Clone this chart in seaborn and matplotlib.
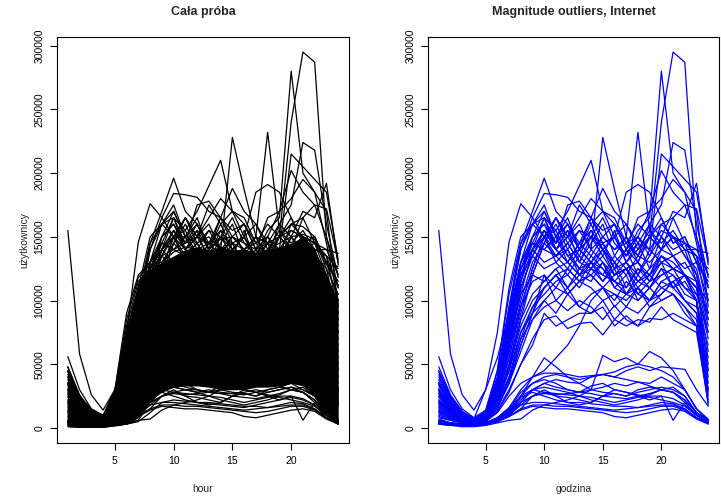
import numpy as np
import pandas as pd
import matplotlib
matplotlib.use('Agg')
import matplotlib.pyplot as plt
import seaborn as sns

# godziny 1..24, wartości w tysiącach użytkowników
hours = list(range(1, 25))

# krzywe odstające (magnitude outliers) - rysowane na obu panelach
upper = [
    [22, 14, 8, 5, 8, 25, 60, 110, 135, 150, 140, 150, 135, 155, 140, 125, 140, 130, 150, 240, 295, 287, 150, 120],
    [30, 18, 10, 6, 10, 35, 80, 125, 145, 165, 145, 155, 140, 160, 140, 150, 135, 155, 165, 280, 200, 185, 145, 100],
    [25, 15, 9, 5, 9, 30, 70, 115, 150, 160, 140, 155, 130, 145, 160, 135, 150, 232, 155, 140, 165, 145, 135, 90],
    [20, 12, 7, 4, 8, 25, 55, 95, 125, 150, 165, 145, 155, 140, 228, 187, 150, 130, 150, 140, 150, 135, 120, 80],
    [28, 16, 9, 5, 9, 30, 65, 105, 140, 165, 155, 170, 190, 210, 170, 165, 145, 160, 150, 165, 145, 150, 130, 100],
    [35, 20, 11, 6, 10, 35, 85, 130, 150, 170, 150, 160, 145, 165, 150, 140, 150, 135, 160, 175, 224, 218, 160, 118],
    [18, 11, 6, 4, 7, 22, 50, 90, 120, 145, 160, 140, 155, 150, 165, 145, 135, 150, 140, 215, 205, 195, 185, 132],
    [24, 14, 8, 5, 8, 28, 65, 110, 135, 155, 140, 150, 160, 140, 150, 160, 140, 165, 170, 202, 185, 175, 150, 110],
    [40, 22, 12, 7, 12, 40, 95, 145, 170, 196, 170, 160, 140, 150, 145, 130, 140, 120, 135, 150, 140, 145, 120, 85],
    [45, 25, 13, 7, 30, 75, 146, 176, 165, 150, 155, 135, 140, 130, 145, 125, 130, 120, 140, 130, 135, 120, 110, 70],
    [30, 18, 10, 6, 10, 33, 75, 120, 145, 140, 150, 130, 145, 155, 140, 150, 135, 145, 160, 150, 170, 165, 192, 128],
    [35, 20, 11, 6, 11, 38, 90, 140, 165, 184, 183, 181, 170, 165, 145, 150, 130, 140, 150, 140, 150, 135, 125, 85],
    [20, 12, 7, 4, 8, 25, 60, 100, 130, 145, 135, 145, 130, 150, 140, 150, 185, 191, 185, 165, 145, 150, 130, 112],
    [38, 21, 11, 6, 11, 36, 85, 130, 160, 170, 150, 165, 140, 150, 135, 155, 130, 145, 125, 150, 135, 140, 115, 75],
    [15, 9, 5, 3, 6, 18, 45, 85, 120, 145, 165, 150, 175, 160, 170, 150, 160, 140, 155, 145, 155, 140, 140, 137],
    [26, 15, 8, 5, 9, 28, 70, 115, 140, 155, 145, 175, 178, 165, 155, 160, 140, 150, 135, 160, 165, 175, 172, 130],
    [22, 13, 7, 4, 8, 24, 55, 95, 125, 150, 165, 150, 165, 180, 170, 160, 145, 135, 150, 160, 150, 140, 135, 110],
    [33, 19, 10, 6, 10, 34, 80, 125, 150, 160, 145, 160, 140, 165, 188, 170, 160, 145, 140, 155, 150, 145, 140, 120],
    [29, 17, 9, 5, 9, 30, 72, 115, 140, 155, 140, 130, 145, 135, 150, 140, 145, 150, 170, 180, 195, 185, 170, 95],
    [42, 23, 12, 7, 12, 40, 95, 140, 160, 175, 150, 135, 125, 140, 130, 120, 125, 110, 120, 130, 125, 120, 110, 60],
    [19, 11, 6, 4, 7, 22, 50, 85, 105, 115, 125, 110, 120, 115, 130, 110, 105, 115, 120, 110, 115, 120, 110, 100],
    [27, 16, 8, 5, 9, 27, 62, 95, 115, 120, 110, 125, 115, 120, 110, 100, 115, 105, 100, 115, 120, 105, 100, 55],
    [48, 26, 13, 7, 13, 45, 105, 145, 160, 150, 130, 140, 120, 125, 135, 120, 130, 115, 125, 135, 125, 130, 115, 45],
    [36, 20, 11, 6, 11, 36, 85, 125, 140, 130, 135, 145, 130, 125, 140, 130, 120, 135, 130, 140, 150, 145, 135, 125],
    [17, 10, 6, 4, 7, 20, 48, 80, 100, 110, 120, 125, 115, 130, 125, 110, 120, 100, 110, 125, 110, 115, 100, 35],
    [31, 18, 10, 6, 10, 32, 78, 120, 135, 125, 130, 120, 135, 125, 115, 130, 110, 125, 120, 135, 130, 120, 115, 90],
    [56, 30, 15, 8, 14, 45, 110, 150, 160, 165, 140, 130, 120, 130, 115, 125, 105, 120, 110, 125, 120, 110, 100, 40],
    [155, 58, 26, 14, 30, 55, 90, 125, 140, 150, 135, 140, 125, 130, 140, 120, 125, 130, 115, 135, 125, 120, 100, 50],
    [16, 10, 6, 4, 7, 18, 40, 70, 95, 105, 115, 120, 110, 125, 120, 115, 125, 105, 115, 120, 125, 110, 105, 105],
    [21, 13, 7, 4, 8, 22, 45, 75, 90, 100, 110, 105, 115, 120, 110, 105, 100, 110, 95, 105, 115, 100, 95, 65],
    [44, 24, 12, 7, 12, 38, 90, 130, 145, 140, 135, 125, 140, 130, 120, 135, 125, 130, 120, 140, 135, 125, 130, 115],
    [13, 8, 5, 3, 6, 16, 35, 65, 90, 110, 120, 110, 125, 120, 130, 115, 105, 110, 100, 105, 115, 100, 90, 45],
    [34, 19, 10, 6, 10, 30, 70, 105, 120, 115, 125, 130, 120, 135, 125, 115, 110, 125, 115, 130, 110, 120, 105, 75],
]

middle = [
    [12, 8, 5, 3, 6, 18, 40, 75, 95, 110, 120, 105, 115, 110, 100, 105, 95, 110, 100, 115, 110, 100, 90, 30],
    [14, 9, 5, 3, 6, 18, 38, 70, 85, 100, 90, 105, 95, 90, 100, 85, 95, 90, 100, 110, 105, 95, 85, 25],
    [10, 7, 4, 3, 5, 14, 30, 50, 70, 85, 88, 78, 82, 83, 73, 85, 80, 85, 83, 95, 85, 80, 75, 20],
    [9, 6, 4, 3, 5, 13, 28, 50, 65, 90, 80, 85, 90, 90, 95, 80, 88, 80, 86, 85, 90, 85, 80, 22],
    [8, 6, 4, 3, 5, 12, 25, 35, 40, 45, 55, 65, 80, 100, 110, 120, 125, 115, 110, 120, 125, 120, 100, 28],
    [11, 7, 4, 3, 5, 16, 35, 60, 85, 95, 100, 92, 100, 95, 85, 96, 85, 80, 95, 100, 105, 95, 80, 18],
    [13, 8, 5, 3, 6, 16, 36, 65, 90, 120, 100, 110, 95, 105, 110, 95, 105, 100, 110, 100, 105, 90, 80, 30],
]

lower = [
    [5, 4, 3, 3, 4, 8, 15, 25, 40, 55, 48, 40, 35, 30, 57, 52, 55, 50, 48, 45, 40, 30, 15, 6],
    [4, 3, 2, 2, 4, 7, 12, 20, 30, 35, 38, 36, 35, 40, 42, 44, 48, 50, 60, 55, 45, 30, 15, 7],
    [5, 3, 2, 2, 4, 7, 14, 25, 35, 40, 42, 40, 38, 40, 42, 40, 45, 48, 45, 48, 47, 46, 30, 17],
    [4, 3, 2, 2, 3, 6, 12, 22, 30, 32, 30, 28, 25, 22, 20, 18, 20, 22, 25, 25, 6, 20, 10, 5],
    [3, 2, 2, 2, 3, 5, 10, 18, 25, 28, 27, 26, 25, 24, 22, 20, 22, 24, 26, 30, 28, 22, 12, 5],
    [6, 4, 3, 3, 4, 8, 15, 28, 35, 38, 35, 30, 28, 27, 25, 24, 23, 25, 27, 30, 32, 25, 12, 6],
    [5, 3, 2, 2, 3, 6, 11, 18, 20, 20, 19, 18, 17, 16, 15, 14, 15, 16, 18, 20, 19, 15, 8, 4],
    [4, 3, 2, 2, 3, 5, 9, 15, 18, 18, 17, 17, 16, 15, 14, 13, 12, 13, 15, 17, 17, 14, 8, 4],
    [7, 4, 3, 3, 4, 8, 16, 30, 40, 43, 43, 42, 40, 41, 42, 40, 38, 36, 35, 40, 35, 30, 15, 6],
    [4, 3, 2, 2, 3, 6, 10, 20, 30, 35, 32, 30, 28, 30, 32, 35, 33, 36, 33, 30, 28, 22, 12, 5],
    [5, 3, 2, 2, 3, 5, 9, 15, 25, 30, 25, 20, 18, 20, 25, 30, 28, 25, 22, 25, 23, 18, 10, 4],
    [6, 4, 3, 3, 4, 7, 13, 24, 28, 25, 22, 20, 20, 19, 18, 17, 17, 16, 17, 18, 18, 15, 8, 4],
    [3, 2, 1, 1, 2, 4, 6, 7, 14, 18, 20, 22, 25, 30, 28, 27, 25, 28, 30, 32, 30, 25, 12, 6],
    [5, 3, 2, 2, 3, 6, 12, 20, 25, 27, 26, 27, 28, 33, 35, 30, 28, 26, 24, 22, 20, 17, 10, 5],
    [4, 3, 2, 2, 3, 5, 9, 14, 17, 16, 15, 15, 14, 13, 12, 9, 8, 10, 12, 14, 15, 13, 7, 3],
    [5, 3, 2, 2, 3, 6, 11, 25, 30, 28, 25, 24, 22, 20, 25, 27, 25, 30, 32, 30, 28, 20, 10, 5],
]

# typowe krzywe (tylko cala proba) - brzegi gestego obszaru
typical = [
    [45, 25, 15, 10, 30, 90, 120, 130, 140, 150, 150, 145, 150, 140, 145, 140, 150, 145, 150, 155, 150, 145, 130, 112],
    [3, 1, 1, 1, 2, 4, 10, 25, 30, 32, 30, 28, 30, 28, 27, 26, 28, 30, 32, 35, 30, 25, 12, 4],
    [1, 0.5, 0.5, 0.5, 2, 3, 6, 20, 25, 28, 30, 30, 28, 27, 27, 28, 30, 28, 30, 32, 28, 22, 10, 3],
    [40, 22, 14, 9, 25, 80, 115, 125, 135, 140, 145, 150, 145, 148, 150, 145, 140, 145, 150, 160, 158, 150, 128, 127],
    [48, 24, 13, 8, 28, 85, 118, 128, 130, 138, 142, 140, 145, 142, 138, 140, 135, 140, 145, 150, 152, 148, 125, 105],
    [2, 1, 1, 1, 2, 3, 5, 12, 20, 22, 21, 20, 19, 18, 17, 16, 18, 20, 22, 24, 22, 18, 8, 3],
]

# gesty obszar "calej proby" (dolna i gorna granica)
band_lo = [1, 0.5, 0.5, 0.5, 1.5, 3, 8, 22, 28, 32, 33, 33, 32, 30, 30, 30, 32, 32, 33, 35, 33, 25, 12, 3]
band_hi = [45, 25, 15, 10, 30, 80, 115, 125, 130, 135, 140, 142, 140, 142, 140, 140, 138, 140, 142, 145, 150, 140, 120, 100]


def to_long(curves, prefix):
    rows = []
    for i, c in enumerate(curves):
        for h, v in zip(hours, c):
            rows.append({'hour': h, 'users': v * 1000, 'curve': f'{prefix}{i}'})
    return pd.DataFrame(rows)


df_out = to_long(upper + middle + lower, 'o')
df_all = pd.concat([to_long(typical, 't'), df_out], ignore_index=True)

sns.set_theme(style='ticks')
plt.rcParams['font.family'] = ['Liberation Sans', 'DejaVu Sans']
plt.rcParams['axes.edgecolor'] = 'black'
plt.rcParams['axes.linewidth'] = 0.8
plt.rcParams['xtick.color'] = 'black'
plt.rcParams['ytick.color'] = 'black'

fig = plt.figure(figsize=(7.21, 4.98), dpi=100)
ax1 = fig.add_axes([57 / 721, 1 - 443 / 498, 292 / 721, 406 / 498])
ax2 = fig.add_axes([428 / 721, 1 - 443 / 498, 291 / 721, 406 / 498])

ax1.fill_between(hours, np.array(band_lo) * 1000, np.array(band_hi) * 1000,
                 color='black', lw=0)
sns.lineplot(data=df_all, x='hour', y='users', units='curve', estimator=None,
             color='black', lw=0.9, ax=ax1)
sns.lineplot(data=df_out, x='hour', y='users', units='curve', estimator=None,
             color='#0000FF', lw=0.9, ax=ax2)

titles = ['Cała próba', 'Magnitude outliers, Internet']
xlabels = ['hour', 'godzina']
yticks = [0, 50000, 100000, 150000, 200000, 250000, 300000]
for ax, t, xl in zip([ax1, ax2], titles, xlabels):
    ax.set_xlim(1 - 0.92, 24 + 0.92)
    ax.set_ylim(-11800, 306800)
    ax.set_xticks([5, 10, 15, 20])
    ax.set_yticks(yticks)
    ax.set_yticklabels([str(v) for v in yticks], rotation=90, va='center')
    ax.tick_params(axis='both', length=5, width=0.8, labelsize=7.5, pad=4,
                   direction='out')
    ax.set_title(t, fontsize=9, fontweight='bold', pad=15.5)
    ax.set_xlabel(xl, fontsize=7.5, labelpad=13)
    ax.set_ylabel('użytkownicy', fontsize=7.5, labelpad=4)
    for s in ax.spines.values():
        s.set_visible(True)
        s.set_color('black')

fig.savefig('out.png', dpi=100, facecolor='white')
